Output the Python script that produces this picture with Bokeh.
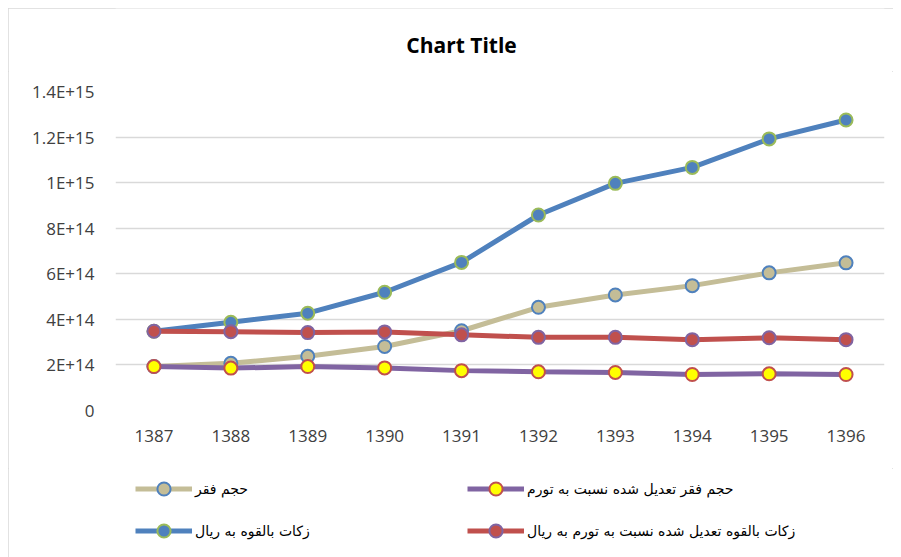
from bokeh.plotting import figure
from bokeh.layouts import column
from bokeh.models import (Range1d, FixedTicker, Legend, LegendItem, ColumnDataSource, Label)
from bokeh.embed import file_html
from bokeh.resources import INLINE

# ---- data ----
years = ["1387", "1388", "1389", "1390", "1391", "1392", "1393", "1394", "1395", "1396"]
poverty = [1.93e14, 2.07e14, 2.38e14, 2.81e14, 3.50e14, 4.53e14, 5.07e14, 5.48e14, 6.04e14, 6.48e14]
poverty_adj = [1.93e14, 1.86e14, 1.93e14, 1.87e14, 1.75e14, 1.70e14, 1.67e14, 1.58e14, 1.61e14, 1.58e14]
zakat = [3.48e14, 3.87e14, 4.27e14, 5.19e14, 6.50e14, 8.58e14, 9.97e14, 1.067e15, 1.192e15, 1.275e15]
zakat_adj = [3.48e14, 3.46e14, 3.42e14, 3.45e14, 3.32e14, 3.21e14, 3.21e14, 3.11e14, 3.19e14, 3.11e14]

series_names = [
    "حجم فقر",
    "حجم فقر تعدیل شده نسبت به تورم",
    "زکات بالقوه به ریال",
    "زکات بالقوه تعدیل شده نسبت به تورم به ریال",
]
y_ticks = [0, 2e14, 4e14, 6e14, 8e14, 1e15, 1.2e15, 1.4e15]
y_tick_labels = ["0", "2E+14", "4E+14", "6E+14", "8E+14", "1E+15", "1.2E+15", "1.4E+15"]
title_text = "Chart Title"

source = ColumnDataSource(dict(year=years, poverty=poverty, poverty_adj=poverty_adj,
                               zakat=zakat, zakat_adj=zakat_adj))

W = 885
H0 = 63           # title strip
H1 = 397          # main chart
H2 = 125          # legend strip
FL, FR, FT, FB = 107, 876, 20, 339   # frame edges in main-figure pixels

def strip(height, **kw):
    f = figure(width=W, height=height, output_backend="svg", toolbar_location=None,
               x_axis_type=None, y_axis_type=None, min_border=0, **kw)
    f.grid.visible = False
    f.outline_line_color = None
    f.background_fill_color = "white"
    f.border_fill_color = "white"
    return f

# ---- title strip ----
tf = strip(H0, x_range=Range1d(0, 1), y_range=Range1d(0, 1))
tf.add_layout(Label(x=346, y=27, x_units="screen", y_units="screen", text=title_text,
                    text_align="center", text_baseline="middle", text_font="Open Sans",
                    text_font_style="bold", text_font_size="21px", text_color="#000000"))

# ---- main chart ----
p = figure(x_range=years, y_range=Range1d(0, 1.4e15), width=W, height=H1,
           output_backend="svg", toolbar_location=None,
           min_border_left=FL, min_border_right=W - FR, min_border_top=FT,
           min_border_bottom=H1 - FB)
p.outline_line_color = None
p.background_fill_color = "white"
p.border_fill_color = "white"

p.xgrid.visible = False
p.ygrid.grid_line_color = "#d9d9d9"
p.ygrid.grid_line_width = 1.3
p.yaxis.ticker = FixedTicker(ticks=y_ticks)
p.yaxis.major_label_overrides = {t: l for t, l in zip(y_ticks, y_tick_labels)}
for ax in (p.xaxis[0], p.yaxis[0]):
    ax.axis_line_color = None
    ax.major_tick_line_color = None
    ax.minor_tick_line_color = None
    ax.major_tick_out = 0
    ax.major_tick_in = 0
    ax.minor_tick_out = 0
    ax.major_label_text_font = "Open Sans"
    ax.major_label_text_font_size = "17px"
    ax.major_label_text_color = "#404040"
p.yaxis.major_label_standoff = 21
p.xaxis.major_label_standoff = 19

styles = [
    ("poverty", "#C4BD97", "#C4BD97", "#4F81BD"),
    ("poverty_adj", "#8064A2", "#FFFF00", "#C0504D"),
    ("zakat", "#4F81BD", "#4F81BD", "#9BBB59"),
    ("zakat_adj", "#C0504D", "#C0504D", "#8064A2"),
]

# ---- legend strip: its y range lies above all data, so its copies of the
# series are out of view and only feed the legend glyphs ----
lf = strip(H2, x_range=years, y_range=Range1d(2e15, 3e15))

items = []
for (col, lc, fc, oc), name in zip(styles, series_names):
    p.line(x="year", y=col, source=source, line_color=lc, line_width=5)
    p.scatter(x="year", y=col, source=source, size=13, fill_color=fc,
              line_color=oc, line_width=2)
    lr = lf.line(x="year", y=col, source=source, line_color=lc, line_width=5)
    sr = lf.scatter(x="year", y=col, source=source, size=13, fill_color=fc,
                    line_color=oc, line_width=2)
    items.append(LegendItem(label=name, renderers=[lr, sr]))

def make_legend(its, loc):
    lg = Legend(items=its, location=loc, orientation="vertical")
    lg.padding = 0
    lg.margin = 0
    lg.spacing = 9
    lg.glyph_width = 57
    lg.glyph_height = 33
    lg.label_height = 33
    lg.label_standoff = 3
    lg.label_text_font = "DejaVu Sans"
    lg.label_text_font_size = "14px"
    lg.label_text_color = "#000000"
    lg.border_line_color = None
    lg.background_fill_alpha = 0
    return lg

lf.add_layout(make_legend([items[0], items[2]], (20, 46)))
lf.add_layout(make_legend([items[1], items[3]], (352, 46)))

layout = column(tf, p, lf, spacing=0)
layout.styles = {"margin-left": "8px", "margin-top": "8px",
                 "outline": "1px solid #d9d9d9", "outline-offset": "-1px"}

html = file_html(layout, INLINE)
html = html.replace("<head>", "<head><style>html,body{overflow:hidden}</style>", 1)
open("out.html", "w").write(html)
